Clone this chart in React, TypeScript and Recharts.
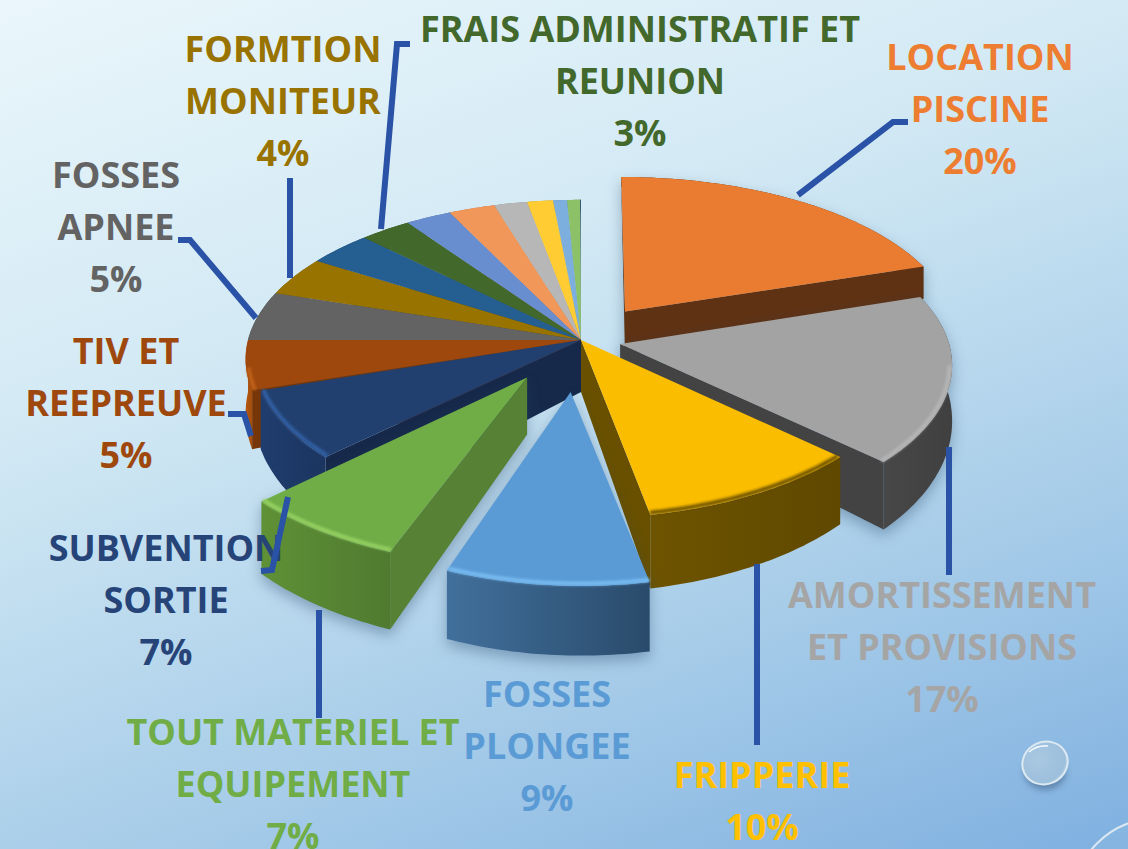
import React from "react";
import { PieChart, Pie } from "recharts";

// ---- data, clockwise from 12 o'clock ----
const sliceNames = [
  "LOCATION PISCINE", "AMORTISSEMENT ET PROVISIONS", "FRIPPERIE", "FOSSES PLONGEE",
  "TOUT MATERIEL ET EQUIPEMENT", "SUBVENTION SORTIE", "TIV ET REEPREUVE", "FOSSES APNEE",
  "FORMTION MONITEUR", "AUTRE A", "FRAIS ADMINISTRATIF ET REUNION", "AUTRE B", "AUTRE C",
  "AUTRE D", "AUTRE E", "AUTRE F", "AUTRE G", "AUTRE H",
];
const sliceValues = [20, 17, 10, 9, 7, 7, 5, 5, 4, 3.5, 2.8, 2.5, 2.5, 1.8, 1.4, 0.75, 0.7, 0.05];

// ---- styles ----
const topColors = ["#e97c30", "#a3a3a3", "#fbbd00", "#5b9bd5", "#70ad47", "#22406f", "#9e480e", "#636363", "#997300", "#255e91", "#43682b", "#698ed0", "#f1975a", "#b7b7b7", "#ffcd33", "#7cafdd", "#8cc168", "#264478"];
const wallLeft = ["#5f3214", "#474747", "#6e5400", "#41709c", "#5f9136", "#1f3d6e", "#b5570f", "#4a4a4a", "#735600", "#1c4670", "#324e20", "#4f6a9c", "#b57144", "#898989", "#bf9a26", "#5d83a6", "#69914e", "#1c3359"];
const wallRight = ["#5f3214", "#404040", "#5f4800", "#2a4b6b", "#4f7a30", "#1c3560", "#a34d0c", "#4a4a4a", "#735600", "#1c4670", "#324e20", "#4f6a9c", "#b57144", "#898989", "#bf9a26", "#5d83a6", "#69914e", "#1c3359"];
const faceColors = ["#5f3214", "#434343", "#685000", "#2a4b6b", "#578135", "#16294b", "#763608", "#4a4a4a", "#735600", "#1c4670", "#324e20", "#4f6a9c", "#b57144", "#898989", "#bf9a26", "#5d83a6", "#69914e", "#1c3359"];
const rimColors = ["", "#b8b8b8", "#5f4800", "#7cc0f5", "#9bd665", "#3465ad", "#c8661c", "", "", "", "", "", "", "", "", "", "", ""];
const sliceExplode = [0.23, 0.12, 0, 0.32, 0.28, 0, 0, 0, 0, 0, 0, 0, 0, 0, 0, 0, 0, 0];
const arcShift = [0.003, -0.015, 0, 0.03, 0.032, 0.025, 0, 0, 0, 0, 0, 0, 0, 0, 0, 0, 0, 0];
const arcWidth = [1, 1, 0.98, 0.93, 1, 1, 1, 1, 1, 1, 1, 1, 1, 1, 1, 1, 1, 1];
const depthScale = [1, 1, 1, 0.86, 1, 1, 1, 1, 1, 1, 1, 1, 1, 1, 1, 1, 1, 1];

// ---- annotation layout: slice index, text lines, centre x, line centres y, colour, leader ----
const labelIndex = [0, 1, 2, 3, 4, 5, 6, 7, 8, 10];
const labelLines = [
  ["LOCATION", "PISCINE"], ["AMORTISSEMENT", "ET PROVISIONS"], ["FRIPPERIE"], ["FOSSES", "PLONGEE"],
  ["TOUT MATERIEL ET", "EQUIPEMENT"], ["SUBVENTION", "SORTIE"], ["TIV ET", "REEPREUVE"], ["FOSSES", "APNEE"],
  ["FORMTION", "MONITEUR"], ["FRAIS ADMINISTRATIF ET", "REUNION"],
];
const labelX = [980, 942, 762, 547, 293, 166, 126, 116, 283, 640];
const labelY = [57, 595, 775, 694, 732, 548, 351, 175, 49, 29];
const labelColors = ["#ed7d31", "#a5a5a5", "#ffc000", "#5b9bd5", "#70ad47", "#264478", "#9e480e", "#636363", "#997300", "#43682b"];
const leaders = [
  "798,195 893,122 908,122", "949,447 949,575", "757,564 757,745", "", "319,610 319,718",
  "288,497 272,570 261,571", "228,414 244,414 251,436", "256,318 190,240 178,240", "290,178 290,278", "381,229 397,44 410,44",
];

const CX = 581, CY = 340, RADIUS = 333;
const TILT = 0.4715, PERSP = 0.12;
const rightSide = [0, 1, 2, 3];
const n = sliceValues.length;
const tableFwd = sliceNames.map((name, i) => ({ name, value: sliceValues[i], idx: i }));
const tableRev = [...tableFwd].reverse();

function project(xn: number, yn: number, R: number, cx: number, cy: number, ds: number) {
  const s = 1 / (1 - PERSP * yn);
  const d = yn < 0 ? 52 + 40 * yn : 52 + 22 * yn;
  return { x: cx + R * xn * s, y: cy + R * TILT * yn * s, d: Math.max(d, 10) * ds };
}
const f = (v: number) => v.toFixed(1);
const path = (pts: { x: number; y: number }[], close = true) =>
  pts.map((p, i) => `${i ? "L" : "M"}${f(p.x)} ${f(p.y)}`).join(" ") + (close ? " Z" : "");
const down = (p: any) => ({ x: p.x, y: p.y + p.d });

function Wedge(props: any, idx: number) {
  const { cx, cy, outerRadius: R, startAngle, endAngle } = props;
  const a = 90 - startAngle, b = 90 - endAngle;
  const t1 = (Math.min(a, b) * Math.PI) / 180, t2 = (Math.max(a, b) * Math.PI) / 180;
  const mid = (t1 + t2) / 2, e = sliceExplode[idx];
  const ox = Math.sin(mid) * e, oy = -Math.cos(mid) * e;
  const ds = depthScale[idx];
  const tip = project(ox, oy, R, cx, cy, ds);
  const steps = Math.max(2, Math.ceil(((t2 - t1) * 180) / Math.PI));
  const arc: any[] = [];
  for (let i = 0; i <= steps; i++) {
    const t = t1 + ((t2 - t1) * i) / steps;
    arc.push(project(Math.sin(t) * arcWidth[idx] + ox + arcShift[idx], -Math.cos(t) + oy, R, cx, cy, ds));
  }
  const first = arc[0], last = arc[arc.length - 1];
  const faces: any[] = [];
  if (first.x < tip.x) faces.push([tip, first, down(first), down(tip)]);
  if (tip.x < last.x) faces.push([last, tip, down(tip), down(last)]);
  const wall = [...arc, ...[...arc].reverse().map(down)];
  const gid = `wall-${idx}`;
  const rim = arc
    .map((p) => ({ x: p.x + (tip.x - p.x) * 0.008, y: p.y + (tip.y - p.y) * 0.012 }))
    .filter((p) => p.y > cy + 25);
  const shadow = e > 0.05 ? { filter: "drop-shadow(0px 6px 7px rgba(40,70,105,0.38))" } : undefined;
  return (
    <g style={shadow}>
      <defs>
        <linearGradient id={gid} x1="0" y1="0" x2="1" y2="0">
          <stop offset="0" stopColor={wallLeft[idx]} />
          <stop offset="1" stopColor={wallRight[idx]} />
        </linearGradient>
      </defs>
      {faces.map((pts, i) => (
        <path key={i} d={path(pts)} fill={faceColors[idx]} />
      ))}
      <path d={path(wall)} fill={`url(#${gid})`} />
      <path d={path([tip, ...arc])} fill={topColors[idx]} />
      {rimColors[idx] && rim.length > 1 ? (
        <path d={path(rim, false)} fill="none" stroke={rimColors[idx]} strokeWidth={3.5} style={{ filter: "blur(1.4px)" }} />
      ) : null}
    </g>
  );
}

function Annotation(li: number) {
  const lines = labelLines[li];
  const idx = labelIndex[li];
  const pct = `${Math.round(sliceValues[idx])}%`;
  const all = [...lines, pct];
  return (
    <g key={li}>
      {all.map((t, i) => (
        <text
          key={i}
          x={labelX[li]}
          y={labelY[li] + i * 52 + 13}
          textAnchor="middle"
          fill={labelColors[li]}
          fontFamily="'Open Sans', sans-serif"
          fontWeight={700}
          fontSize={36}
        >
          {t}
        </text>
      ))}
      {leaders[li] ? <polyline points={leaders[li]} fill="none" stroke="#2a52a6" strokeWidth={6} /> : null}
    </g>
  );
}

function labelFor(orig: number) {
  const li = labelIndex.indexOf(orig);
  return li < 0 ? <g /> : Annotation(li);
}

function Backdrop() {
  return (
    <svg width={1128} height={849} style={{ position: "absolute", left: 0, top: 0 }}>
      <defs>
        <radialGradient id="drop" cx="0.4" cy="0.35" r="0.75">
          <stop offset="0" stopColor="#a9c8e2" />
          <stop offset="0.8" stopColor="#9cbfdc" />
          <stop offset="1" stopColor="#d8e6ef" />
        </radialGradient>
      </defs>
      <ellipse cx={1045} cy={772} rx={21} ry={18} fill="#39597c" opacity={0.5} style={{ filter: "blur(3px)" }} />
      <ellipse cx={1045} cy={763} rx={23} ry={21} fill="url(#drop)" stroke="#dde9f1" strokeWidth={2} transform="rotate(-25 1045 763)" />
      <path d="M1029 752 Q1037 745 1048 746" fill="none" stroke="#eef6fb" strokeWidth={1.5} />
      <circle cx={1158} cy={904} r={86} fill="#93bce2" fillOpacity={0.35} stroke="#dbe8f2" strokeWidth={2} />
    </svg>
  );
}

export default function App() {
  return (
    <div
      style={{
        position: "fixed",
        left: 0,
        top: 0,
        width: 1128,
        height: 849,
        overflow: "hidden",
        background: "linear-gradient(160deg, #eaf6fb 0%, #d2e9f4 35%, #a8cde9 70%, #7fb0e0 100%)",
      }}
    >
      <Backdrop />
      <div style={{ position: "absolute", left: 0, top: 0 }}>
        <PieChart width={1128} height={849} margin={{ top: 0, right: 0, bottom: 0, left: 0 }}>
          <Pie
            data={tableRev}
            dataKey="value"
            nameKey="name"
            cx={CX}
            cy={CY}
            innerRadius={0}
            outerRadius={RADIUS}
            startAngle={-270}
            endAngle={90}
            stroke="none"
            isAnimationActive={false}
            labelLine={false}
            shape={(p: any) => {
              const orig = n - 1 - p.index;
              return rightSide.includes(orig) ? <g /> : Wedge(p, orig);
            }}
            label={(p: any) => {
              const orig = n - 1 - p.index;
              return rightSide.includes(orig) ? <g /> : labelFor(orig);
            }}
          />
          <Pie
            data={tableFwd}
            dataKey="value"
            nameKey="name"
            cx={CX}
            cy={CY}
            innerRadius={0}
            outerRadius={RADIUS}
            startAngle={90}
            endAngle={-270}
            stroke="none"
            isAnimationActive={false}
            labelLine={false}
            shape={(p: any) => (rightSide.includes(p.index) ? Wedge(p, p.index) : <g />)}
            label={(p: any) => (rightSide.includes(p.index) ? labelFor(p.index) : <g />)}
          />
        </PieChart>
      </div>
    </div>
  );
}
